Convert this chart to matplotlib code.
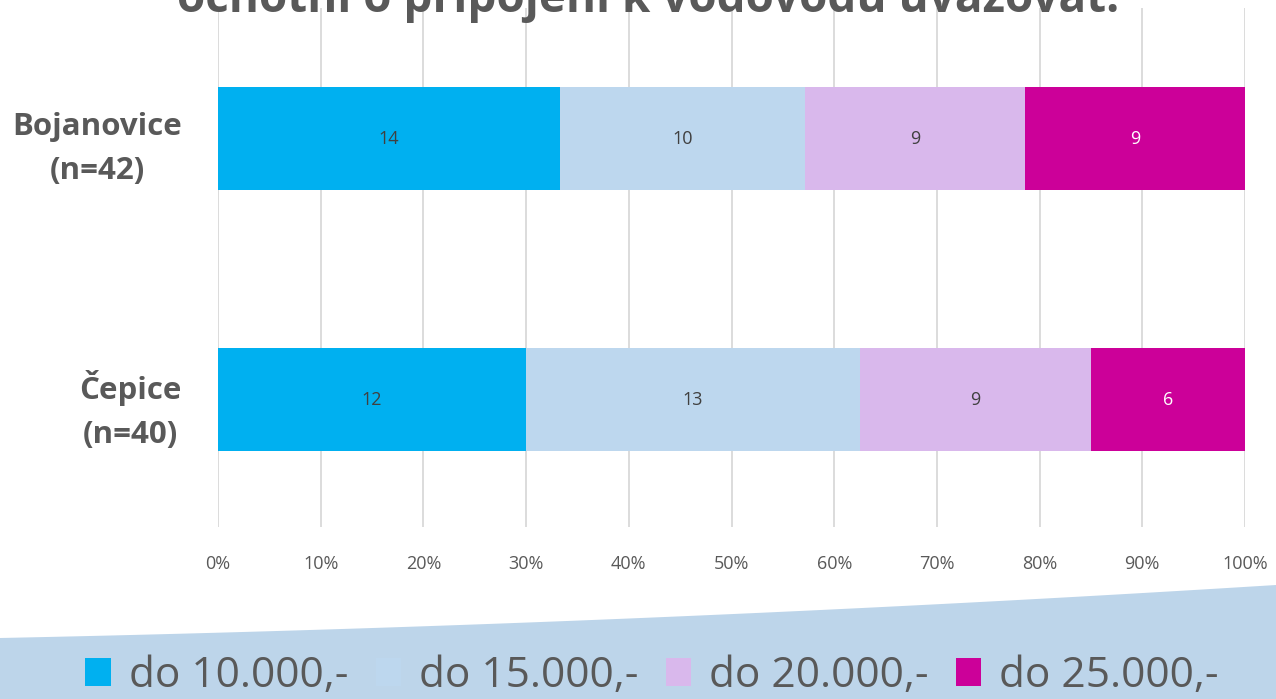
import numpy as np
import matplotlib.pyplot as plt
from matplotlib.patches import Polygon, Patch

# data
places = ["Čepice\n(n=40)", "Bojanovice\n(n=42)"]
series = ["do 10.000,-", "do 15.000,-", "do 20.000,-", "do 25.000,-"]
counts = np.array([
    [12, 13, 9, 6],    # Čepice
    [14, 10, 9, 9],    # Bojanovice
])
colors = ["#00B0F0", "#BDD7EE", "#D9B8EC", "#CC0099"]
label_colors = ["#404040", "#404040", "#404040", "#FFFFFF"]
xticks = np.arange(0, 1.01, 0.1)

W, H = 1276, 699
fig = plt.figure(figsize=(W / 100, H / 100), dpi=100)
plt.rcParams['font.family'] = ['Open Sans', 'DejaVu Sans']

# light blue shape at the bottom
xs = np.linspace(0, 1, 100)
ys = 638 - 53 * (0.5 * xs + 0.5 * xs ** 2)
pts = [(x, 1 - y / H) for x, y in zip(xs, ys)] + [(1, 0), (0, 0)]
fig.patches.append(Polygon(pts, closed=True, transform=fig.transFigure,
                           facecolor="#BDD5EA", edgecolor="none", zorder=0))

ax = fig.add_axes([218 / W, 1 - 527 / H, (1245 - 218) / W, (527 - 8) / H])
ax.set_facecolor("none")

shares = counts / counts.sum(axis=1, keepdims=True)
ypos = np.arange(len(places))
left = np.zeros(len(places))
for j in range(len(series)):
    ax.barh(ypos, shares[:, j], left=left, height=0.395, color=colors[j],
            label=series[j], zorder=3)
    for i in range(len(places)):
        ax.text(left[i] + shares[i, j] / 2, ypos[i], str(counts[i, j]),
                ha="center", va="center", fontsize=13, color=label_colors[j], zorder=4)
    left += shares[:, j]

ax.set_xlim(0, 1)
ax.set_ylim(-0.488, 1.5)
ax.set_xticks(xticks)
ax.set_xticklabels([f"{int(round(t * 100))}%" for t in xticks], fontsize=13, color="#595959")
ax.set_yticks(ypos)
ax.set_yticklabels(places, fontsize=22.5, fontweight="bold", color="#595959",
                   multialignment="center", linespacing=1.6)
ax.tick_params(axis="both", length=0)
ax.tick_params(axis="y", pad=26)
ax.tick_params(axis="x", pad=20)
ax.grid(axis="x", color="#D9D9D9", linewidth=1.3, zorder=0)
for s in ax.spines.values():
    s.set_visible(False)

# title, partly cut off at the top
fig.text(648 / W, 1 - 12 / H, "ochotni o připojení k vodovodu uvažovat.",
         ha="center", va="baseline", fontsize=33, fontweight="bold", color="#595959")

handles = [Patch(facecolor=c, edgecolor="none") for c in colors]
fig.legend(handles, series, loc="center", bbox_to_anchor=(652 / W, 1 - 676 / H),
           ncol=4, frameon=False, fontsize=30.5, handlelength=0.6, handleheight=0.65,
           handletextpad=0.42, columnspacing=0.65, labelcolor="#595959")

fig.savefig("out.png", dpi=100)
